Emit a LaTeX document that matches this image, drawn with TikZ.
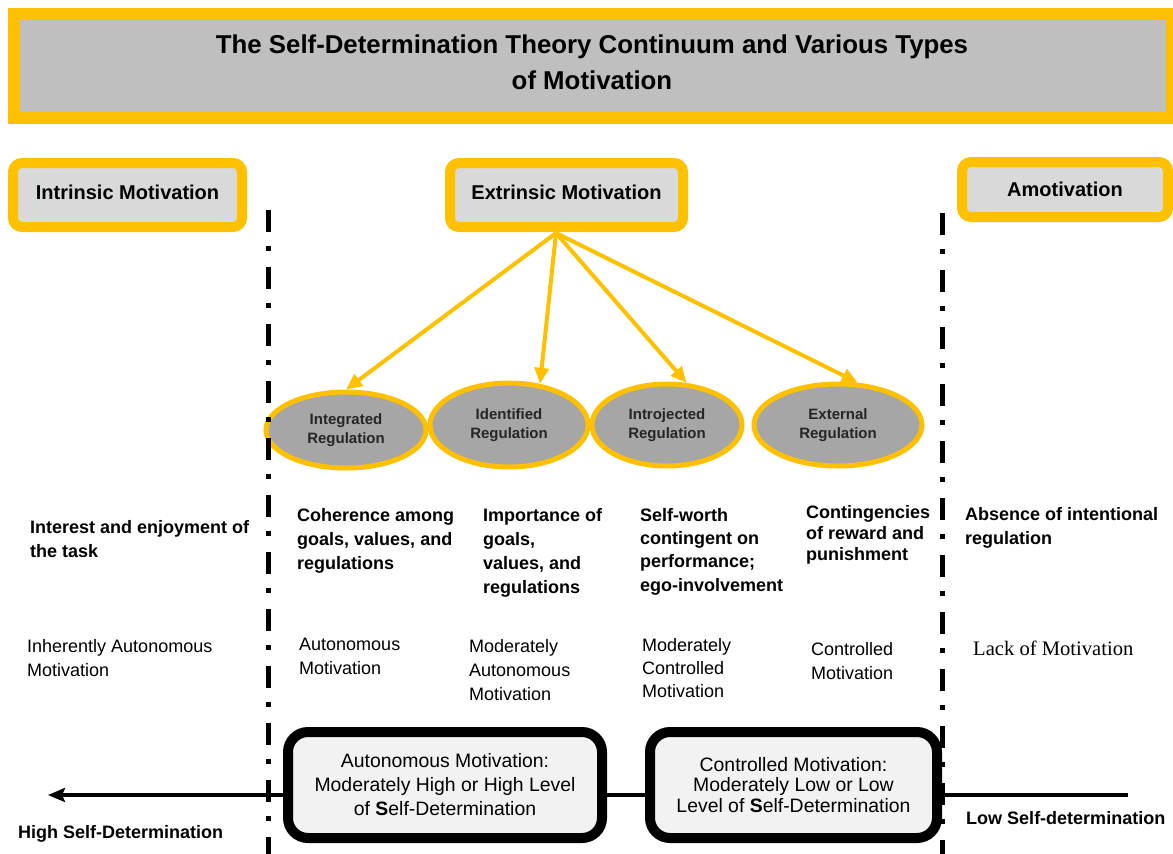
\documentclass[tikz,border=0pt]{standalone}
\usepackage{fontspec}
\setmainfont{Liberation Sans}
\newfontfamily\timesfont{Liberation Serif}
\usetikzlibrary{positioning, shapes.geometric, arrows.meta}

\definecolor{sdtyellow}{HTML}{FFC000}
\definecolor{titlegray}{HTML}{BFBFBF}
\definecolor{boxgray}{HTML}{D9D9D9}
\definecolor{ovalgray}{HTML}{A6A6A6}
\definecolor{levelgray}{HTML}{F2F2F2}

\tikzset{
    typebox/.style={draw=sdtyellow, fill=boxgray, line width=10pt, rounded corners=9pt, minimum height=64pt, text depth=6pt, font=\bfseries\fontsize{20}{24}\selectfont},
    regoval/.style={draw=sdtyellow, fill=ovalgray, ellipse, line width=5pt, inner sep=0pt, align=center, text=black!85, font=\bfseries\fontsize{15}{19}\selectfont},
    reason/.style={anchor=north west, inner sep=0pt, align=left, font=\bfseries\fontsize{18}{24}\selectfont},
    kind/.style={anchor=north west, inner sep=0pt, align=left, font=\fontsize{18}{24}\selectfont},
    levelbox/.style={draw=black, fill=levelgray, line width=10pt, rounded corners=20pt, minimum height=106pt, align=center, font=\fontsize{19.4}{24}\selectfont},
    branch/.style={draw=sdtyellow, line width=4pt, -{Triangle[length=16pt, width=14pt]}},
    axis/.style={line width=4pt},
    divider/.style={line width=5pt, dash pattern=on 22pt off 14pt on 5pt off 16pt},
}

\begin{document}
\begin{tikzpicture}[x=1pt, y=-1pt]
    \useasboundingbox (0,0) rectangle (1173,854);

    % title banner
    \fill[sdtyellow] (8,8) rectangle (1173,124);
    \fill[titlegray] (20,20) rectangle (1166,112);
    \node[align=center, font=\bfseries\fontsize{25.8}{36}\selectfont] (title) at (592,62)
        {The Self-Determination Theory Continuum and Various Types\\of Motivation};

    % the three kinds
    \node[typebox, minimum width=229pt]                     (intr)  at (127.5,195) {Intrinsic Motivation};
    \node[typebox, minimum width=233pt]                     (extr)  at (566.5,195) {Extrinsic Motivation};
    \node[typebox, minimum width=206pt, minimum height=55pt, text depth=1pt] (amot) at (1065,189.5) {Amotivation};

    % regulations
    \node[regoval, minimum width=160pt, minimum height=76pt] (integ)  at (346,430) {Integrated\\Regulation};
    \node[regoval, minimum width=158pt, minimum height=84pt] (ident)  at (509,425) {Identified\\Regulation};
    \node[regoval, minimum width=150pt, minimum height=82pt] (introj) at (667,425) {Introjected\\Regulation};
    \node[regoval, minimum width=168pt, minimum height=82pt] (extreg) at (838,425) {External\\Regulation};

    \coordinate (fork) at (556,233);
    \draw[branch] (fork) -- (integ.north);
    \draw[branch] (fork) -- (ident.53);
    \draw[branch] (fork) -- (introj.65);
    \draw[branch] (fork) -- (extreg.65);

    % what drives each one
    \node[reason]                                          (intr why)   at (30,520)  {Interest and enjoyment of\\the task};
    \node[reason]                                          (integ why)  at (297,508) {Coherence among\\goals, values, and\\regulations};
    \node[reason]                                          (ident why)  at (483,508) {Importance of\\goals,\\values, and\\regulations};
    \node[reason, font=\bfseries\fontsize{18}{23.3}\selectfont] (introj why) at (640,508) {Self-worth\\contingent on\\performance;\\ego-involvement};
    \node[reason, font=\bfseries\fontsize{18}{21}\selectfont]   (ext why)    at (806,505) {Contingencies\\of reward and\\punishment};
    \node[reason]                                          (amot why)   at (965,507) {Absence of intentional\\regulation};

    \node[kind]                                            (intr kind)   at (27,639)  {Inherently Autonomous\\Motivation};
    \node[kind]                                            (integ kind)  at (299,638) {Autonomous\\Motivation};
    \node[kind]                                            (ident kind)  at (469,639) {Moderately\\Autonomous\\Motivation};
    \node[kind, font=\fontsize{18}{23}\selectfont]         (introj kind) at (642,638) {Moderately\\Controlled\\Motivation};
    \node[kind]                                            (ext kind)    at (811,642) {Controlled\\Motivation};
    \node[kind, font=\timesfont\fontsize{20.6}{24}\selectfont] (amot kind) at (973,641) {Lack of Motivation};

    % continuum
    \node[levelbox, minimum width=314pt] (auto) at (445,785)
        {Autonomous Motivation:\\Moderately High or High Level\\of \textbf{S}elf-Determination};
    \node[levelbox, minimum width=287pt, font=\fontsize{19.4}{20.5}\selectfont] (ctrl) at (793.5,785)
        {Controlled Motivation:\\Moderately Low or Low\\Level of \textbf{S}elf-Determination};

    \coordinate (high end) at (48,795);
    \coordinate (low end)  at (1128,795);
    \draw[axis, -{Stealth[length=17pt, width=14pt, inset=3pt]}] (auto.west |- high end) -- (high end);
    \draw[axis] (auto.east |- high end) -- (ctrl.west |- high end);
    \draw[axis] (ctrl.east |- high end) -- (low end);

    \node[reason, anchor=base west] (high label) at (18,838)  {High \textbf{S}elf-Determination};
    \node[reason, anchor=base west] (low label)  at (966,824) {Low \textbf{S}elf-determination};

    \draw[divider] (268,210) -- (268,854);
    \draw[divider] (942,213) -- (942,854);
\end{tikzpicture}
\end{document}
